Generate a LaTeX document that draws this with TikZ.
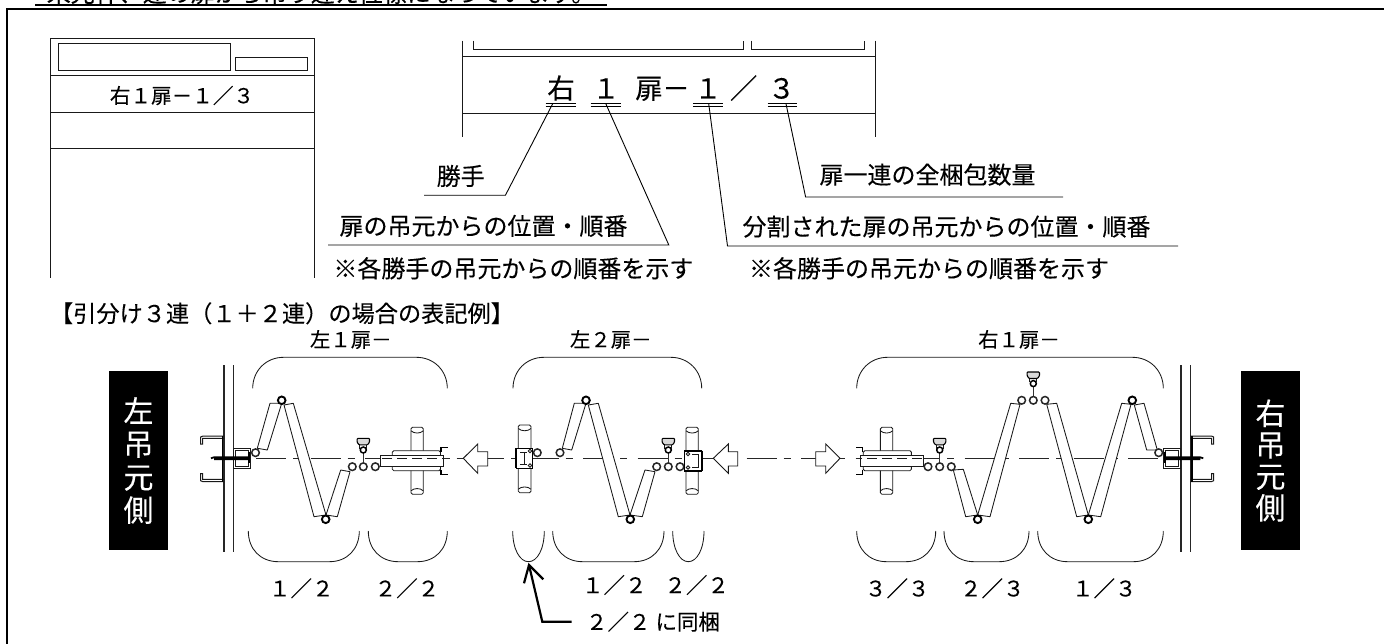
\documentclass[tikz,border=0pt]{standalone}
\usepackage{fontspec}
\setmainfont[FakeBold=0.15]{Noto Sans CJK JP}
\newcommand\fsz[1]{\fontsize{#1}{#1}\selectfont}
\tikzset{
 x=1pt,y=-1pt,
 thinl/.style={line width=0.85pt,black!90},
 medl/.style={line width=1.1pt,black},
 ring/.style={line width=1.5pt,black!85,fill=white},
 lbl/.style={inner sep=0pt,outer sep=0pt,text=black},
 note/.style={lbl,font=\fsz{24}},
 small/.style={lbl,font=\fsz{21.5}},
 big/.style={lbl,font=\fsz{27.5},anchor=base},
 leader/.style={line width=0.9pt,black},
 plate/.style={thinl,fill=white,line join=round},
}
\newcommand\pring[2]{\draw[ring] (#1,#2) circle (3.8);}
\newcommand\pringb[2]{\draw[line width=1.9pt,black,fill=white] (#1,#2) circle (3.8);}
\newcommand\latchup[2]{%
 \draw[medl,black!80] (#1,#2)--(#1,#2-16.7);
 \draw[ring] (#1,#2) circle (3.8);
 \draw[line width=1.5pt,black,fill=white] (#1,#2-16.7) circle (3);
 \draw[thinl,line width=1.1pt] (#1-3.6,#2-18)--(#1-3.6,#2-22) (#1+3.6,#2-18)--(#1+3.6,#2-22);
 \draw[line width=1.1pt,black,fill=black!15,rounded corners=0.8pt] (#1-6.2,#2-28.3)--(#1+6.2,#2-28.3)--(#1+6.2,#2-24.5)--(#1+4.2,#2-21.8)--(#1-4.2,#2-21.8)--(#1-6.2,#2-24.5)--cycle;
}
\newcommand\postbar[4]{% x1 x2 ytop ybot
 \draw[thinl,rounded corners=1.5pt,fill=white] (#1,#3) rectangle (#2,#4);
 \draw[thinl] (#1,#3+3.5) .. controls (#1+3,#3+6.5) and (#2-3,#3+6.5) .. (#2,#3+3.5);
 \draw[thinl] (#1,#4-3.5) .. controls (#1+3,#4-6.5) and (#2-3,#4-6.5) .. (#2,#4-3.5);
}
\newcommand\toparc[2]{\draw[thinl] (#1,388.3) .. controls (#1,371) and (#1+13,357.3) .. (#1+31,357.3) -- (#2-31,357.3) .. controls (#2-13,357.3) and (#2,371) .. (#2,388.3);}
\newcommand\botarc[2]{\draw[thinl] (#1,531) .. controls (#1,549) and (#1+12,561.7) .. (#1+30,561.7) -- (#2-30,561.7) .. controls (#2-12,561.7) and (#2,549) .. (#2,531);}
\newcommand\botcup[2]{\draw[thinl] (#1,531) .. controls (#1,549) and (#1+7,561.7) .. ({(#1+#2)/2},561.7) .. controls (#2-7,561.7) and (#2,549) .. (#2,531);}
% sliding rail unit, drawn for the left side
\newcommand\railunit{%
 \postbar{411}{423.3}{427.3}{494.3}
 \draw[thinl,rounded corners=1.5pt,fill=white] (392.3,450.7) rectangle (440.5,470.7);
 \draw[thinl,fill=white] (380,455.3) rectangle (443,466.5);
 \draw[thinl,dash pattern=on 10pt off 5pt] (382,458.3)--(443,458.3);
 \draw[line width=1.4pt,black] (441,452)--(441,447.7)--(447.7,447.7);
 \draw[line width=1.4pt,black] (441,470)--(441,474.3)--(447.7,474.3);
}
% wall, channel, box, screw: left side
\newcommand\wallunit{%
 \draw[line width=1.3pt,black!85] (224,365)--(224,551.7) (233.3,365)--(233.3,551.7);
 \draw[thinl,line width=1pt] (224,436)--(203,436)--(200.6,437)--(200.6,444)--(202.6,444)--(202.6,438.3)--(224,438.3);
 \draw[thinl,line width=1pt] (224,481.7)--(203,481.7)--(200.6,480.7)--(200.6,473.7)--(202.6,473.7)--(202.6,479.4)--(224,479.4);
 \draw[line width=1.8pt,black] (222.5,436)--(222.5,481.7);
 \draw[thinl,fill=white] (233.5,448.5) rectangle (250.7,468.5);
 \draw[thinl] (235.5,450.5) rectangle (248.7,466.5);
 \draw[line width=1.7pt,black] (211,458.3)--(214,457.3)--(249,457.3) (214,459.3)--(249,459.3);
 \draw[line width=1.8pt,black] (249,452)--(249,463);
}
\begin{document}
\begin{tikzpicture}
\path[use as bounding box] (0,0) rectangle (1384,644);
\fill[white] (0,0) rectangle (1384,644);
% clipped heading at the very top
\begin{scope}
 \clip (0,0) rectangle (1384,3.6);
 \node[lbl,font=\fsz{24},anchor=base] (cliptext) at (321,2) {来光枠、連の扉から吊り違え位標になっています。};
\end{scope}
\draw[line width=1.3pt,black] (35,5)--(607,5);
% frame
\draw[line width=2.2pt,black] (7,644)--(7,9.2)--(1384,9.2);

% left label sheet
\draw[thinl] (50.4,277.7)--(50.4,38.3)--(314.7,38.3)--(314.7,277.7);
\draw[thinl] (50.4,75.3)--(314.7,75.3) (50.4,112)--(314.7,112) (50.4,148.3)--(314.7,148.3);
\draw[thinl] (58,43.3) rectangle (230.4,70.7) (235.7,57) rectangle (307.6,70.7);
\node[lbl,font=\fsz{20.6}] (sheetlabel) at (182,95.5) {右１扉－１／３};

% enlarged label sheet
\draw[thinl] (462,40.7)--(462,137.3) (875,40.7)--(875,137.3);
\draw[thinl] (462,56.7)--(875,56.7) (462,113.7)--(875,113.7);
\draw[thinl] (473.2,40.7)--(473.2,49)--(743.6,49)--(743.6,40.7);
\draw[thinl] (751.5,40.7)--(751.5,49)--(864,49)--(864,40.7);
\node[big] (b1) at (561,98.5) {右};
\node[big] (b2) at (606,98.5) {１};
\node[big] (b3) at (649,98.5) {扉};
\node[big] (b4) at (676,98.5) {－};
\node[big] (b5) at (708,98.5) {１};
\node[big] (b6) at (743.6,98.5) {／};
\node[big] (b7) at (781.6,98.5) {３};
\foreach \a/\b in {545.5/576,590.6/621.4,692.9/722.7,767.6/796.9}
 \draw[line width=1.2pt,black] (\a,103.7)--(\b,103.7) (\a,106.7)--(\b,106.7);

% notes and leaders
\coordinate (u1) at (552.7,103.7); \coordinate (k1) at (505.4,195.3); \coordinate (e1) at (424,195.3);
\coordinate (u2) at (605.8,103.7); \coordinate (k2) at (668.8,245); \coordinate (e2) at (328,245);
\coordinate (u3) at (708.7,103.7); \coordinate (k3) at (727.5,246); \coordinate (e3) at (1178,246);
\coordinate (u4) at (786,103.7); \coordinate (k4) at (805.6,197); \coordinate (e4) at (1063,197);
\draw[leader] (u1)--(k1)--(e1);
\draw[leader] (u2)--(k2)--(e2);
\draw[leader] (u3)--(k3)--(e3);
\draw[leader] (u4)--(k4)--(e4);
\node[note] (n1) at (460.7,176) {勝手};
\node[note] (n2) at (483.5,226) {扉の吊元からの位置・順番};
\node[note] (n3) at (513.4,268.3) {※各勝手の吊元からの順番を示す};
\node[note] (n4) at (927.5,174.7) {扉一連の全梱包数量};
\node[note] (n5) at (946.5,226.7) {分割された扉の吊元からの位置・順番};
\node[note] (n6) at (929,268.3) {※各勝手の吊元からの順番を示す};
\node[lbl,font=\fsz{23.2}] (heading) at (282,313.3) {【引分け３連（１＋２連）の場合の表記例】};

% top labels
\node[lbl,font=\fsz{20.4}] (t1) at (350.8,339.5) {左１扉－};
\node[lbl,font=\fsz{20.4}] (t2) at (610.8,339.5) {左２扉－};
\node[lbl,font=\fsz{20.4}] (t3) at (1019,339.5) {右１扉－};

% brackets
\toparc{252.7}{447.3} \toparc{513}{701.7} \toparc{856.7}{1163.3}
\botarc{248.3}{359.3} \botarc{368.3}{447.3}
\botcup{512.7}{544.3} \botarc{552.7}{664} \botcup{672.7}{704}
\botarc{856.7}{935.7} \botarc{944}{1029} \botarc{1037.7}{1163.3}

% centre line
\draw[line width=0.9pt,black!85,dash pattern=on 30pt off 7pt on 7pt off 10.5pt] (256,458.3)--(1158,458.3);

% black side labels
\node[fill=black,text=white,minimum width=59pt,minimum height=179pt,inner sep=0pt,align=center,font=\fsz{30}\setlength{\baselineskip}{31.5pt}] (leftside) at (138.5,460.5) {左\\[1.5pt]吊\\[1.5pt]元\\[1.5pt]側};
\node[fill=black,text=white,minimum width=59pt,minimum height=179pt,inner sep=0pt,align=center,font=\fsz{30}] (rightside) at (1270.5,460.5) {右\\[1.5pt]吊\\[1.5pt]元\\[1.5pt]側};

% ---- left leaf
\wallunit
\draw[plate] (270,403.3)--(281.7,403.3)--(267.3,450)--(257.3,448.3)--cycle;
\draw[plate] (284,405)--(293.3,403.3)--(326,515)--(314,516.7)--cycle;
\draw[plate] (326,515)--(337.3,516.7)--(350,471.7)--(340.7,470)--cycle;
\pring{255.5}{452.7}
\pringb{281.7}{400.3}
\pringb{325.7}{519.3}
\pring{352.3}{466.7}
\latchup{363.3}{466.7}
\pring{375.3}{466.7}
\railunit

% ---- middle leaf
\postbar{518.3}{531}{425}{492.7}
\draw[line width=1pt,black,fill=white] (516,448.3) rectangle (532.7,468.3);
\draw[line width=1.8pt,black] (516,448.3)--(516,468.3);
\draw[thinl] (520,452)--(527,452) (520,464.5)--(527,464.5) (524,452)--(524,464.5);
\draw[thinl,fill=white] (530,451) circle (1.8) (530,465.5) circle (1.8);
\pring{537.3}{452.7}
\draw[plate] (574.3,403.3)--(586,403.3)--(571.7,450)--(562.3,448.3)--cycle;
\draw[plate] (588.3,405)--(598.3,403.3)--(630,515)--(618.3,516.7)--cycle;
\draw[plate] (630,515)--(642.3,516.7)--(655,471.7)--(645,470)--cycle;
\pring{560}{452.7}
\pringb{586}{400.3}
\pringb{630.3}{519.3}
\pring{656.7}{466.7}
\latchup{668.3}{466.7}
\pring{680}{466.7}
\postbar{686}{698.3}{427.3}{494.3}
\draw[line width=1pt,black,fill=white] (684.3,450.7) rectangle (701.7,470.7);
\draw[line width=1.8pt,black] (684.3,450.7)--(701.7,450.7) (684.3,470.7)--(701.7,470.7) (701.7,450.7)--(701.7,470.7);
\draw[thinl] (692,454.5)--(698,454.5)--(698,467)--(692,467);
\draw[thinl,fill=white] (688,454) circle (1.8) (688,467.5) circle (1.8);

% ---- right leaf
\begin{scope}[shift={(1303.7,0)},xscale=-1]\railunit\end{scope}
\draw[plate] (953.3,470)--(963.3,469.3)--(977.7,515)--(965.7,516.7)--cycle;
\draw[plate] (977.7,515)--(990,516.7)--(1020,404.3)--(1010.7,403.3)--cycle;
\draw[plate] (1046.7,404.3)--(1056.7,403.3)--(1088.3,515)--(1076.7,516.7)--cycle;
\draw[plate] (1088.3,515)--(1100.7,516.7)--(1131,404.3)--(1121.7,403.3)--cycle;
\draw[plate] (1134.3,405)--(1144,403.3)--(1157.3,450)--(1146.7,450)--cycle;
\pring{928}{466.7}
\latchup{939.7}{466.7}
\pring{951.3}{466.7}
\pringb{977.7}{519.3}
\pring{1021.7}{400.3}
\latchup{1033.3}{400.3}
\pring{1045}{400.3}
\pringb{1088.3}{519.3}
\pringb{1132.3}{400.3}
\begin{scope}[shift={(1414.3,0)},xscale=-1]\wallunit\end{scope}
\pring{1158.7}{452.7}

% ---- sliding arrows
\draw[thinl,line width=0.9pt,fill=white,line join=miter] (463.3,458.3)--(477.7,444)--(477.7,451.7)--(487.7,451.7)--(487.7,466)--(477.7,466)--(477.7,473.3)--cycle;
\draw[thinl,line width=0.9pt,fill=white,line join=miter] (713.3,458.3)--(728.3,444)--(728.3,451.7)--(737.7,451.7)--(737.7,466)--(728.3,466)--(728.3,473.3)--cycle;
\draw[thinl,line width=0.9pt,fill=white,line join=miter] (840,458.3)--(825.7,444)--(825.7,451.7)--(815.7,451.7)--(815.7,466)--(825.7,466)--(825.7,473.3)--cycle;

% bottom labels
\node[small] (f1) at (301.3,588.3) {１／２};
\node[small] (f2) at (407,588.3) {２／２};
\node[small] (f3) at (614.3,585) {１／２};
\node[small] (f4) at (696.7,585) {２／２};
\node[small] (f5) at (897.3,588.3) {３／３};
\node[small] (f6) at (992.3,588.3) {２／３};
\node[small] (f7) at (1104.3,588.3) {１／３};
\node[small,anchor=west] (same) at (586,621.7) {２／２\hspace{5pt}に同梱};
\coordinate (a1) at (542.3,621.7);
\coordinate (tip) at (529,565);
\draw[line width=2.2pt,black,line join=miter] (same.west)++(-14.3,0)--(a1)--(tip);
\draw[line width=2.2pt,black] (524,583.3)--(tip)--(543.3,579.3);
\end{tikzpicture}
\end{document}
